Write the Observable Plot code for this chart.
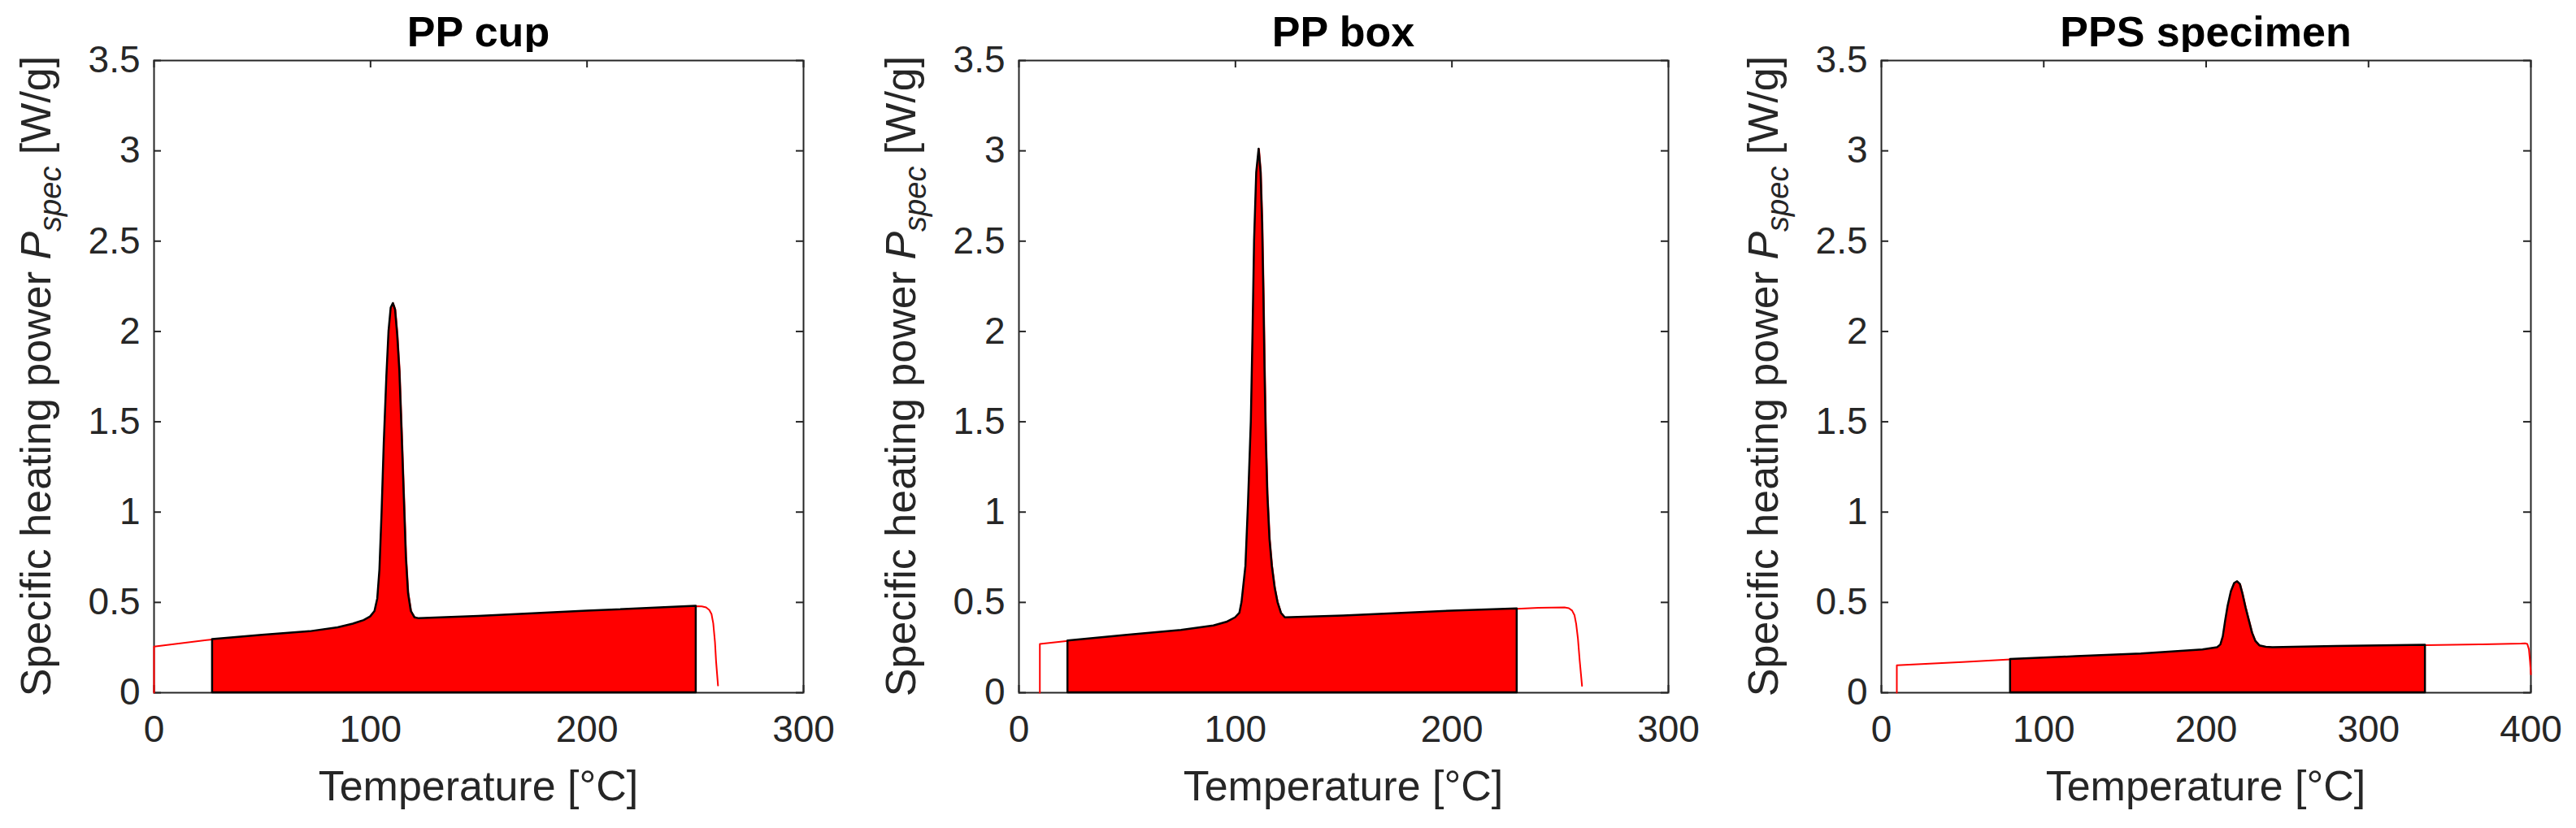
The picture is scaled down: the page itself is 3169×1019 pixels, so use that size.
<!DOCTYPE html>
<html>
<head>
<meta charset="utf-8">
<script src="https://cdn.jsdelivr.net/npm/d3@7"></script>
<script src="https://cdn.jsdelivr.net/npm/@observablehq/plot@0.6"></script>
<style>
  html, body { margin: 0; padding: 0; background: #fff; }
  #wrap { position: relative; width: 3169px; height: 1019px; overflow: hidden;
          font-family: "Liberation Sans", Arial, Helvetica, sans-serif; color: #262626; background: #fff; }
  .panel { position: absolute; top: 0; width: 1044px; height: 1019px; }
  .title { position: absolute; top: 0; left: 189px; width: 799px; height: 78px; line-height: 78px;
           text-align: center; font-weight: bold; font-size: 52px; color: #000; white-space: nowrap; }
  .panel svg { position: absolute; top: 64px; left: 0; }
</style>
</head>
<body>
<div id="wrap"></div>
<script>
// ---------- data ----------
const titles = ["PP cup", "PP box", "PPS specimen"];
const xMax = [300, 300, 400];
const xTicksPP = [0, 100, 200, 300];
const xTicksPPS = [0, 100, 200, 300, 400];
const yTicks = [0, 0.5, 1, 1.5, 2, 2.5, 3, 3.5];

// PP cup: temperature [°C] and specific heating power [W/g]
const cupT = [0, 0, 27, 50, 72, 85, 92, 97, 100, 102, 103.3, 104.3, 105.3, 106.3, 107.5, 108.5, 109.5, 110.5,
              111.5, 112.5, 113.5, 114.5, 115.5, 116.5, 117.5, 118.8, 120.5, 122.5, 150, 200, 250.4,
              253, 255, 256.5, 257.5, 258.3, 259.1, 259.6, 260.5];
const cupP = [0, 0.255, 0.295, 0.318, 0.338, 0.36, 0.38, 0.40, 0.42, 0.45, 0.52, 0.68, 1.0, 1.38, 1.75, 2.0, 2.13, 2.155,
              2.12, 1.98, 1.78, 1.45, 1.1, 0.75, 0.55, 0.45, 0.415, 0.41, 0.423, 0.452, 0.479,
              0.478, 0.472, 0.458, 0.435, 0.384, 0.28, 0.175, 0.04];
const cupFill = [27, 250.4];

// PP box
const boxT = [9.66, 9.66, 22.6, 50, 75, 90, 96, 100, 102, 103, 104.8, 106, 107.3, 108.1, 108.8, 109.8, 110.9,
              111.8, 112.5, 113.1, 113.6, 114.2, 114.9, 115.9, 117, 118.3, 119.6, 121.2, 123, 150, 200, 230.1,
              240, 252, 254, 255.5, 256.6, 257.4, 258.2, 259, 260.1];
const boxP = [0, 0.27, 0.287, 0.318, 0.345, 0.37, 0.39, 0.415, 0.44, 0.5, 0.7, 1.05, 1.5, 2.0, 2.5, 2.88, 3.01,
              2.88, 2.6, 2.2, 1.8, 1.4, 1.1, 0.85, 0.7, 0.58, 0.5, 0.44, 0.415, 0.425, 0.452, 0.465,
              0.47, 0.472, 0.468, 0.455, 0.43, 0.38, 0.3, 0.18, 0.038];
const boxFill = [22.6, 230.1];

// PPS specimen
const ppsT = [9.5, 9.5, 50, 79.5, 120, 160, 198, 207, 209, 210.5, 212, 213.5, 215.5, 217.5, 219.3, 221, 222.5,
              224.5, 226.5, 228.5, 230.5, 233, 237, 241, 280, 335, 370, 394, 396.5, 397.8, 398.8, 399.5, 400];
const ppsP = [0, 0.152, 0.17, 0.184, 0.2, 0.215, 0.237, 0.25, 0.265, 0.31, 0.40, 0.48, 0.56, 0.605, 0.615, 0.6, 0.55,
              0.47, 0.40, 0.33, 0.285, 0.26, 0.252, 0.25, 0.256, 0.263, 0.268, 0.272, 0.273, 0.27, 0.24, 0.17, 0.102];
const ppsFill = [79.5, 335];

const panels = [
  {T: cupT, P: cupP, fill: cupFill, xmax: xMax[0], xticks: xTicksPP, left: 0},
  {T: boxT, P: boxP, fill: boxFill, xmax: xMax[1], xticks: xTicksPP, left: 1064},
  {T: ppsT, P: ppsP, fill: ppsFill, xmax: xMax[2], xticks: xTicksPPS, left: 2125}
];

// ---------- layout ----------
const W = 1044, H = 955;
const mL = 189, mR = 56, mT = 10, mB = 167;
const fw = W - mL - mR, fh = H - mT - mB;
const tickLen = 9;
const axisColor = "#262626";
const font = "Liberation Sans, Arial, Helvetica, sans-serif";
const tickFont = 46, labelFont = 52;

const wrap = document.getElementById("wrap");

panels.forEach((pn, i) => {
  const data = pn.T.map((t, k) => ({t, p: pn.P[k]}));
  const fillData = data.filter(d => d.t >= pn.fill[0] && d.t <= pn.fill[1]);

  const chart = Plot.plot({
    width: W, height: H,
    marginTop: mT, marginLeft: mL, marginRight: mR, marginBottom: mB,
    style: {fontFamily: font, fontSize: tickFont + "px", color: axisColor, background: "white", overflow: "visible"},
    x: {domain: [0, pn.xmax]},
    y: {domain: [0, 3.5]},
    marks: [
      Plot.frame({stroke: axisColor, strokeWidth: 2}),
      Plot.tickY(yTicks, {y: d => d, insetRight: fw - tickLen, stroke: axisColor, strokeWidth: 2}),
      Plot.tickY(yTicks, {y: d => d, insetLeft: fw - tickLen, stroke: axisColor, strokeWidth: 2}),
      Plot.tickX(pn.xticks, {x: d => d, insetTop: fh - tickLen, stroke: axisColor, strokeWidth: 2}),
      Plot.tickX(pn.xticks, {x: d => d, insetBottom: fh - tickLen, stroke: axisColor, strokeWidth: 2}),
      Plot.axisY(yTicks, {tickSize: 0, tickPadding: 17, tickFormat: d => String(d), label: null, fontSize: tickFont, fill: axisColor}),
      Plot.axisX(pn.xticks, {tickSize: 0, tickPadding: 28, tickFormat: d => String(d), label: null, fontSize: tickFont, fill: axisColor}),
      Plot.lineY(data, {x: "t", y: "p", stroke: "#ff0000", strokeWidth: 2, strokeLinejoin: "round"}),
      Plot.areaY(fillData, {x: "t", y: "p", fill: "#ff0000", stroke: "#000", strokeWidth: 2.5, strokeLinejoin: "round"})
    ]
  });

  const div = document.createElement("div");
  div.className = "panel";
  div.style.left = pn.left + "px";
  const t = document.createElement("div");
  t.className = "title";
  t.textContent = titles[i];
  div.appendChild(t);
  div.appendChild(chart);
  wrap.appendChild(div);

  const svg = d3.select(chart);
  // y label
  const yl = svg.append("text")
    .attr("transform", `translate(62,${mT + fh / 2}) rotate(-90)`)
    .attr("text-anchor", "middle")
    .attr("font-family", font)
    .attr("font-size", labelFont)
    .attr("fill", axisColor);
  yl.append("tspan").text("Specific heating power ");
  yl.append("tspan").attr("font-style", "italic").text("P");
  yl.append("tspan").attr("font-style", "italic").attr("font-size", 38).attr("dy", 13).text("spec");
  yl.append("tspan").attr("dy", -13).text(" [W/g]");
  // x label
  svg.append("text")
    .attr("x", mL + fw / 2)
    .attr("y", 921)
    .attr("text-anchor", "middle")
    .attr("font-family", font)
    .attr("font-size", labelFont)
    .attr("fill", axisColor)
    .text("Temperature [°C]");
});
</script>
</body>
</html>
